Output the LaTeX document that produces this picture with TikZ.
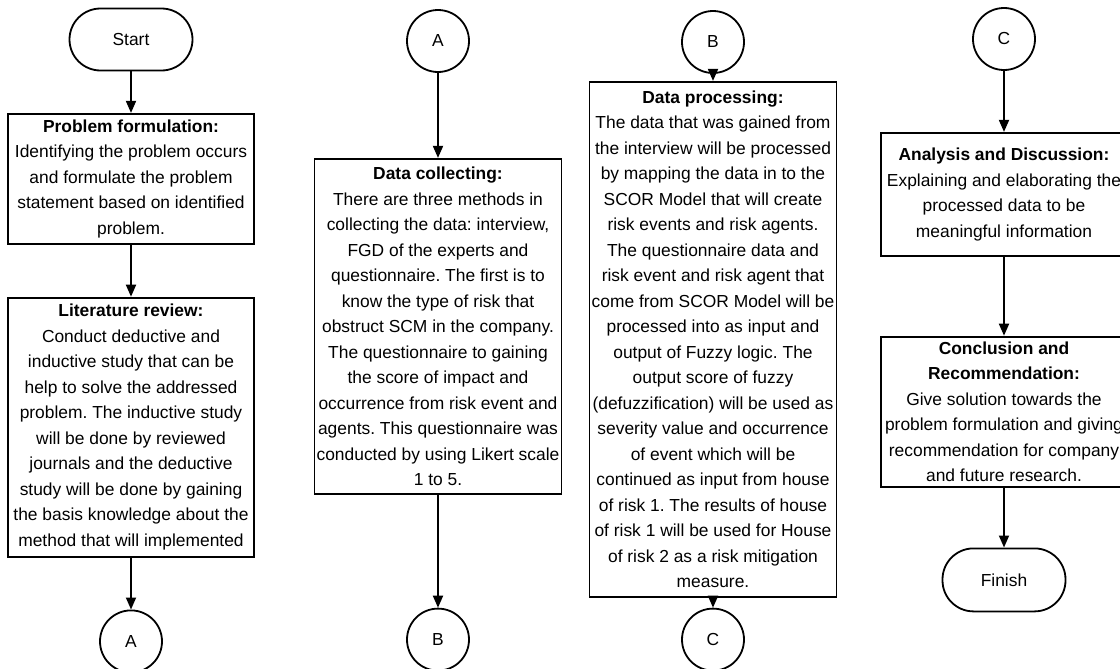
\documentclass[tikz,border=0pt]{standalone}
\usepackage{fontspec}
\setmainfont{Liberation Sans}
\usepackage{tikz}
\usetikzlibrary{positioning, arrows.meta, shapes}
\frenchspacing

\begin{document}
\begin{tikzpicture}[x=0.5pt, y=-0.5pt, font=\fontsize{8.7}{12.75}\selectfont]
    % Define styles
    \tikzstyle{terminal} = [rectangle, draw, line width=0.9pt, rounded corners=15.5pt, minimum width=61.5pt, minimum height=31pt, inner sep=0pt]
    \tikzstyle{process} = [rectangle, draw, line width=0.9pt, align=center, minimum width=123pt, inner xsep=0pt, inner ysep=2pt]
    \tikzstyle{connector} = [circle, draw, line width=0.9pt, minimum size=31pt, inner sep=0pt]
    \tikzstyle{arrow} = [line width=0.9pt, -{Triangle[length=6pt, width=5pt]}]

    \useasboundingbox (0,0) rectangle (1120,669);

    % Column 1
    \node [terminal] (start) at (131,39.5) {Start};
    \node [process, minimum height=65pt, below=20.75pt of start] (problem) {\textbf{Problem formulation:}\\Identifying the problem occurs\\and formulate the problem\\statement based on identified\\problem.};
    \node [process, minimum height=129.5pt, below=26pt of problem] (review) {\textbf{Literature review:}\\Conduct deductive and\\inductive study that can be\\help to solve the addressed\\problem. The inductive study\\will be done by reviewed\\journals and the deductive\\study will be done by gaining\\the basis knowledge about the\\method that will implemented};
    \node [connector, below=26pt of review] (outA) {A};

    % Column 2
    \node [connector] (inA) at (438,41) {A};
    \node [process, minimum width=123.5pt, minimum height=167.5pt, below=42.5pt of inA] (collect) {\textbf{Data collecting:}\\There are three methods in\\collecting the data: interview,\\FGD of the experts and\\questionnaire. The first is to\\know the type of risk that\\obstruct SCM in the company.\\The questionnaire to gaining\\the score of impact and\\occurrence from risk event and\\agents. This questionnaire was\\conducted by using Likert scale\\1 to 5.};
    \node [connector, below=56.5pt of collect] (outB) {B};

    % Column 3
    \node [connector] (inB) at (713,42) {B};
    \node [process, minimum width=123.5pt, minimum height=257.5pt, below=3.5pt of inB] (processing) {\textbf{Data processing:}\\The data that was gained from\\the interview will be processed\\by mapping the data in to the\\SCOR Model that will create\\risk events and risk agents.\\The questionnaire data and\\risk event and risk agent that\\come from SCOR Model will be\\processed into as input and\\output of Fuzzy logic. The\\output score of fuzzy\\(defuzzification) will be used as\\severity value and occurrence\\of event which will be\\continued as input from house\\of risk 1. The results of house\\of risk 1 will be used for House\\of risk 2 as a risk mitigation\\measure.};
    \node [connector, below=5pt of processing] (outC) {C};

    % Column 4
    \node [connector] (inC) at (1004,39) {C};
    \node [process, minimum height=61.5pt, below=30.5pt of inC] (analysis) {\textbf{Analysis and Discussion:}\\Explaining and elaborating the\\processed data to be\\meaningful information};
    \node [process, minimum height=75pt, below=39.5pt of analysis] (conclusion) {\textbf{Conclusion and}\\\textbf{Recommendation:}\\Give solution towards the\\problem formulation and giving\\recommendation for company\\and future research.};
    \node [terminal, minimum height=31.5pt, below=30pt of conclusion] (finish) {Finish};

    % Arrows
    \draw [arrow] (start) -- (problem);
    \draw [arrow] (problem) -- (review);
    \draw [arrow] (review) -- (outA);
    \draw [arrow] (inA) -- (collect);
    \draw [arrow] (collect) -- (outB);
    \draw [arrow] (inB) -- (processing);
    \draw [arrow] (processing) -- (outC);
    \draw [arrow] (inC) -- (analysis);
    \draw [arrow] (analysis) -- (conclusion);
    \draw [arrow] (conclusion) -- (finish);
\end{tikzpicture}
\end{document}
